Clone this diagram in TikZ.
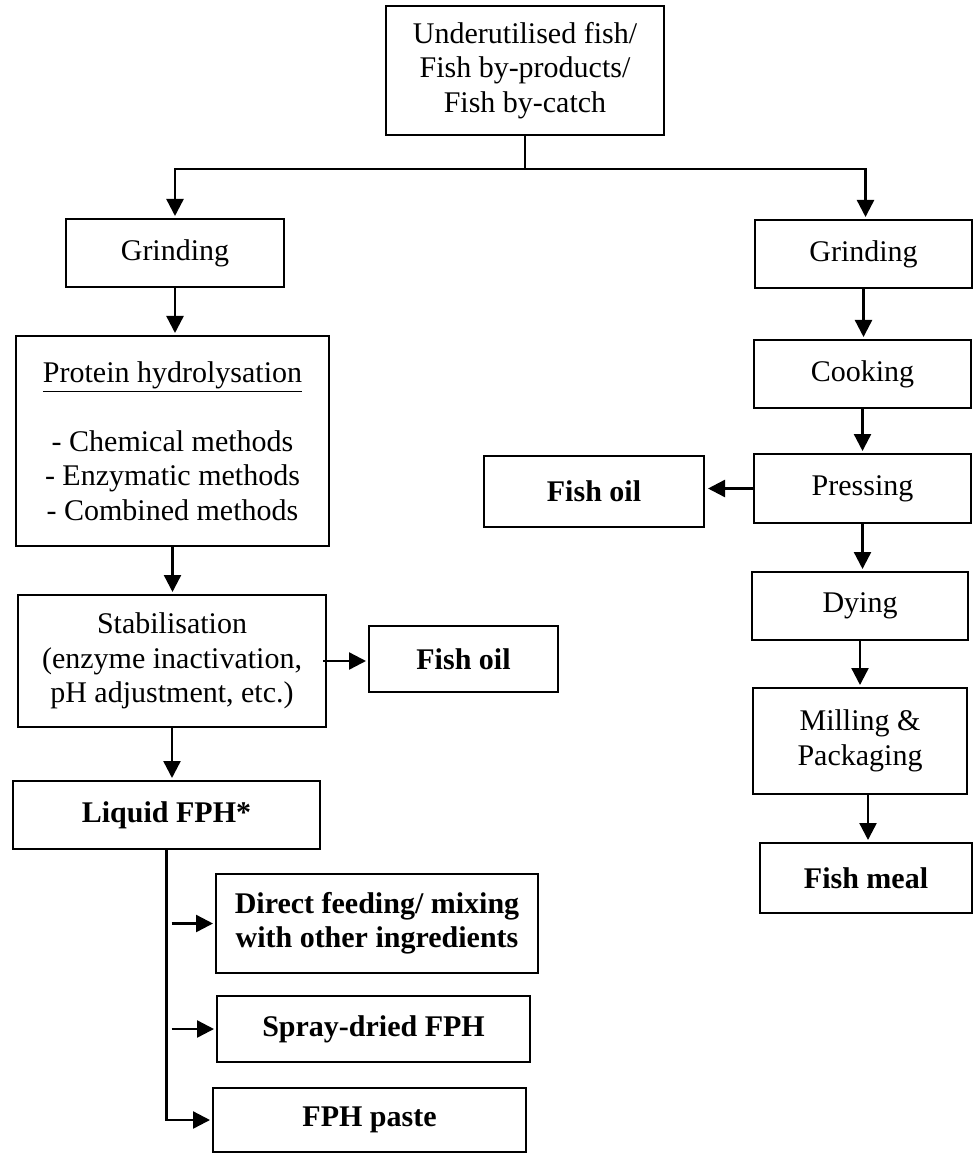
\documentclass[tikz,border=0pt]{standalone}
\usepackage{fontspec}
\setmainfont{Liberation Serif}
\usetikzlibrary{arrows.meta}
\tikzstyle{stage} = [draw, rectangle, line width=1.35pt, inner sep=0pt, outer sep=0pt,
    align=center, font=\fontsize{15}{17.2}\selectfont]
\tikzstyle{product} = [stage, font=\fontsize{15}{17.2}\selectfont\bfseries]
\tikzstyle{flow} = [line width=1.2pt, shorten >=1.5pt, -{Triangle[length=8.5pt,width=8.5pt]}]
\tikzstyle{link} = [line width=1.2pt]

\begin{document}
\begin{tikzpicture}[x=0.5pt,y=-0.5pt]
	\useasboundingbox (0,0) rectangle (974,1154);

	\node(src) at (525,70.5) [stage, minimum width=139pt, minimum height=64.5pt] {Underutilised fish/\\Fish by-products/\\Fish by-catch};
	\coordinate(split) at (526,169);

	% hydrolysate line
	\node(grindL) at (175,253) [stage, minimum width=109pt, minimum height=34pt] {Grinding};
	\node(hydro) at (172.5,441) [stage, minimum width=156.5pt, minimum height=105pt] {\underline{Protein hydrolysation}\\[17.2pt]- Chemical methods\\- Enzymatic methods\\- Combined methods};
	\node(stab) at (172,661) [stage, minimum width=154pt, minimum height=66pt] {Stabilisation\\(enzyme inactivation,\\pH adjustment, etc.)};
	\node(oilL) at (463.5,659) [product, minimum width=94.5pt, minimum height=33pt] {Fish oil};
	\node(liquid) at (166.5,815) [product, minimum width=153.5pt, minimum height=34pt] {Liquid FPH*};
	\node(direct) at (377,923.5) [product, minimum width=161pt, minimum height=49.5pt] {Direct feeding/ mixing\\with other ingredients};
	\node(spray) at (373.5,1029) [product, minimum width=156.5pt, minimum height=33pt] {Spray-dried FPH};
	\node(paste) at (369.5,1120) [product, minimum width=156.5pt, minimum height=32pt] {FPH paste};

	% fish meal line
	\node(grindR) at (863.5,254) [stage, minimum width=108.5pt, minimum height=34pt] {Grinding};
	\node(cook) at (862.5,374) [stage, minimum width=108.5pt, minimum height=34pt] {Cooking};
	\node(press) at (862.5,488.5) [stage, minimum width=108.5pt, minimum height=34.5pt] {Pressing};
	\node(oilR) at (594,491.5) [product, minimum width=110pt, minimum height=35.5pt] {Fish oil};
	\node(dry) at (860,606) [stage, minimum width=108pt, minimum height=34pt] {Dying};
	\node(mill) at (860,741) [stage, minimum width=107pt, minimum height=53pt] {Milling \&\\Packaging};
	\node(meal) at (866,878) [product, minimum width=106pt, minimum height=35pt] {Fish meal};

	\draw[link] (src.south) -- (src.south |- split);
	\draw[flow] (split) -| (grindL.north);
	\draw[flow] (split) -| ([xshift=1pt]grindR.north);

	\draw[flow] (grindL.south) -- (grindL.south |- hydro.north);
	\draw[flow] (hydro.south) -- (hydro.south |- stab.north);
	\draw[flow] ([xshift=-1.5pt]stab.east) -- (stab.east -| oilL.west);
	\draw[flow] (stab.south) -- (stab.south |- liquid.north);

	\coordinate(trunk) at ([xshift=2.5pt]liquid.south);
	\draw[flow] (trunk |- direct.west) -- (direct.west);
	\draw[flow] (trunk |- spray.west) -- (spray.west);
	\draw[flow] (liquid.south) |- (paste.west);

	\draw[flow] (grindR.south) -- (grindR.south |- cook.north);
	\draw[flow] (cook.south) -- (cook.south |- press.north);
	\draw[flow, shorten >=2pt] (press.west) -- (press.west -| oilR.east);
	\draw[flow] (press.south) -- (press.south |- dry.north);
	\draw[flow] (dry.south) -- (dry.south |- mill.north);
	\draw[flow] ([xshift=4pt]mill.south) -- ([xshift=4pt]mill.south |- meal.north);
\end{tikzpicture}
\end{document}
